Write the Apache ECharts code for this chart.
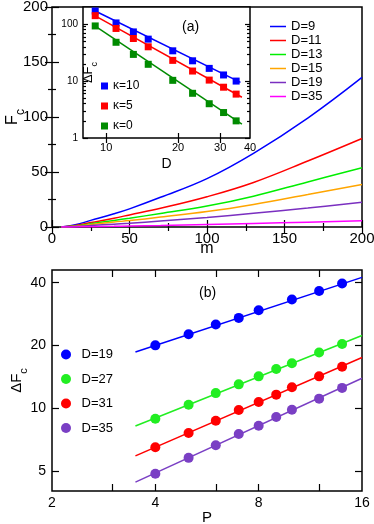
<!DOCTYPE html>
<html>
<head>
<meta charset="utf-8">
<script src="https://cdn.jsdelivr.net/npm/echarts@6/dist/echarts.min.js"></script>
<style>
  html, body { margin: 0; padding: 0; background: #fff; }
  #chart { width: 374px; height: 524px; }
</style>
</head>
<body>
<div id="chart"></div>
<script>
// panel (a), main plot: Fc against m
const mValues = [6, 15, 25, 40, 50, 70, 100, 130, 165, 200];
const fcD9  = [0, 2.0, 6.0, 12.0, 16.5, 27, 44, 67, 99, 136];
const fcD11 = [0, 1.3, 4.0, 8.0, 11.0, 17, 27.5, 40.5, 60, 80.5];
const fcD13 = [0, 0.9, 3.0, 6.0, 8.0, 12.3, 19, 28, 41, 53.8];
const fcD15 = [0, 0.7, 2.2, 4.5, 5.8, 9.0, 14, 20.5, 29.5, 38.7];
const fcD19 = [0, 0.4, 1.3, 2.6, 3.4, 5.4, 8.7, 12.5, 17.2, 22.6];
const fcD35 = [0, 0.1, 0.3, 0.6, 0.9, 1.4, 2.3, 3.2, 4.4, 5.7];
const mainNames = ['D=9', 'D=11', 'D=13', 'D=15', 'D=19', 'D=35'];
const mainColors = ['#0000ff', '#ff0000', '#00ee00', '#ffa500', '#7a2fc0', '#ff00ff'];

// panel (a), inset: delta Fc against D (log-log)
const insetD = [9, 11, 13, 15, 19, 23, 27, 31, 35];
const dfK10 = [170, 105, 73, 54.5, 34, 22.7, 16.7, 12.8, 10.0];
const dfK5  = [141, 84, 56, 40, 23.1, 15.0, 10.4, 7.8, 5.9];
const dfK0  = [93, 48, 29.4, 19.7, 10.3, 6.1, 4.0, 2.8, 2.0];
const fitK10 = [[9, 170], [36.5, 9.5]];
const fitK5  = [[9, 140], [37, 5.2]];
const fitK0  = [[9, 92], [37, 1.76]];
const insetNames = ['κ=10', 'κ=5', 'κ=0'];
const insetColors = ['#0000ff', '#ff0000', '#008b00'];

// panel (b): delta Fc against P (log-log)
const pD19 = [4, 5, 6, 7, 8, 10, 12, 14];
const pAll = [4, 5, 6, 7, 8, 9, 10, 12, 14];
const dfD19 = [20.0, 22.6, 25.2, 27.1, 29.5, 33.2, 36.5, 39.6];
const dfD27 = [8.89, 10.37, 11.8, 13.0, 14.2, 15.4, 16.4, 18.5, 20.3];
const dfD31 = [6.49, 7.6, 8.7, 9.8, 10.7, 11.6, 12.6, 14.2, 15.8];
const dfD35 = [4.84, 5.77, 6.63, 7.51, 8.23, 9.06, 9.82, 11.1, 12.5];
const fitD19 = [[3.5, 18.6], [16, 42.4]];
const fitD27 = [[3.5, 8.2], [16, 22.3]];
const fitD31 = [[3.5, 5.9], [16, 17.5]];
const fitD35 = [[3.5, 4.41], [16, 13.9]];
const bNames = ['D=19', 'D=27', 'D=31', 'D=35'];
const bColors = ['#0000ff', '#22ee22', '#ff0000', '#7a3fc4'];

// tick positions for the log axes
const insetXTicks = [10, 20, 30, 40];
const insetYMajor = [1, 10, 100];
const insetYMinor = [2, 3, 4, 5, 6, 7, 8, 9, 20, 30, 40, 50, 60, 70, 80, 90];
const bXLabels = [2, 4, 8, 16];
const bXTicks = [3, 4, 6, 8, 12];
const bYTicks = [5, 10, 20, 40];

const FONT = 'Liberation Sans';
const lg = v => Math.log10(v);
const pow10 = v => String(Math.round(Math.pow(10, v)));
const pts = (xs, ys) => xs.map((x, i) => [x, ys[i]]);
const logPts = list => list.map(p => [lg(p[0]), lg(p[1])]);
const tickStyle = { color: '#000', width: 1.2 };

function nameStyle(size) {
  return {
    color: '#000', fontSize: size, fontFamily: FONT,
    rich: {
      f: { fontSize: size, lineHeight: size + 1, verticalAlign: 'top', fontFamily: FONT },
      s: { fontSize: size - 4, lineHeight: size - 4, padding: [Math.round(size * 0.6), 0, 0, 0], verticalAlign: 'top', fontFamily: FONT }
    }
  };
}

function linAxis(grid, position, name, gap) {
  return {
    gridIndex: grid, type: 'value', position: position,
    min: 0, max: 200, interval: 50,
    name: name || '', nameLocation: 'middle', nameGap: gap || 0, nameMoveOverlap: false,
    nameTextStyle: nameStyle(16),
    axisLine: { show: false },
    axisTick: { inside: true, length: 7, lineStyle: tickStyle },
    minorTick: { show: true, splitNumber: 2, length: 4, lineStyle: tickStyle },
    axisLabel: { show: !!name, fontSize: 15, color: '#000', margin: 4, fontFamily: FONT },
    splitLine: { show: false }
  };
}

function logAxis(grid, position, min, max, ticks, labels, len, fontSize, margin) {
  return {
    gridIndex: grid, type: 'value', position: position,
    min: lg(min), max: lg(max),
    nameMoveOverlap: false,
    axisLine: { show: false },
    axisTick: { show: ticks.length > 0, inside: true, length: len, lineStyle: tickStyle,
                customValues: ticks.map(lg) },
    axisLabel: { show: !!labels, fontSize: fontSize || 12, color: '#000', margin: margin || 4,
                 fontFamily: FONT, formatter: pow10,
                 customValues: (labels || []).map(lg) },
    splitLine: { show: false }
  };
}

function withName(axis, name, gap, size) {
  axis.name = name;
  axis.nameLocation = 'middle';
  axis.nameGap = gap;
  axis.nameTextStyle = nameStyle(size);
  return axis;
}

const series = [];
[fcD9, fcD11, fcD13, fcD15, fcD19, fcD35].forEach((ys, i) => {
  series.push({
    name: mainNames[i], type: 'line', xAxisIndex: 0, yAxisIndex: 0,
    data: pts(mValues, ys), smooth: 0.4, symbol: 'none',
    lineStyle: { color: mainColors[i], width: 1.5 }, itemStyle: { color: mainColors[i] }, z: 3
  });
});
[[dfK10, fitK10], [dfK5, fitK5], [dfK0, fitK0]].forEach((d, i) => {
  series.push({
    name: 'fit ' + insetNames[i], type: 'line', xAxisIndex: 2, yAxisIndex: 2,
    data: logPts(d[1]), symbol: 'none',
    lineStyle: { color: insetColors[i], width: 1.5 }, z: 4
  });
  series.push({
    name: insetNames[i], type: 'scatter', xAxisIndex: 2, yAxisIndex: 2,
    data: logPts(pts(insetD, d[0])), symbol: 'rect', symbolSize: 7,
    itemStyle: { color: insetColors[i], opacity: 1 }, z: 5
  });
});
[[pD19, dfD19, fitD19], [pAll, dfD27, fitD27], [pAll, dfD31, fitD31], [pAll, dfD35, fitD35]].forEach((d, i) => {
  series.push({
    name: 'fit b ' + bNames[i], type: 'line', xAxisIndex: 4, yAxisIndex: 6,
    data: logPts(d[2]), symbol: 'none',
    lineStyle: { color: bColors[i], width: 1.5 }, z: 4
  });
  series.push({
    name: 'b ' + bNames[i], type: 'scatter', xAxisIndex: 4, yAxisIndex: 6,
    data: logPts(pts(d[0], d[1])), symbol: 'circle', symbolSize: 10,
    itemStyle: { color: bColors[i], opacity: 1 }, z: 5
  });
});

const gridBox = { show: true, borderColor: '#000', borderWidth: 1.5, backgroundColor: '#fff', outerBoundsMode: 'none' };

const option = {
  animation: false,
  backgroundColor: '#fff',
  textStyle: { fontFamily: FONT, color: '#000' },
  grid: [
    Object.assign({ left: 52, top: 7, width: 310, height: 220 }, gridBox),
    Object.assign({ left: 83, top: 7, width: 167, height: 131 }, gridBox),
    Object.assign({ left: 52, top: 270, width: 310, height: 221 }, gridBox)
  ],
  title: [
    { text: '(a)', left: 182, top: 20, padding: 0, textStyle: { fontSize: 14, fontWeight: 'normal', color: '#000', fontFamily: FONT } },
    { text: '(b)', left: 199, top: 286, padding: 0, textStyle: { fontSize: 14, fontWeight: 'normal', color: '#000', fontFamily: FONT } }
  ],
  legend: [
    { data: mainNames, orient: 'vertical', left: 270, top: 20, padding: 0,
      itemWidth: 16, itemHeight: 10, itemGap: 1, selectedMode: false,
      icon: 'path://M0,0H32V3H0Z',
      textStyle: { fontSize: 13, color: '#000', fontFamily: FONT } },
    { data: insetNames, orient: 'vertical', left: 101, top: 80, padding: 0,
      itemWidth: 7, itemHeight: 7, itemGap: 8, icon: 'rect', selectedMode: false,
      textStyle: { fontSize: 12, color: '#000', fontFamily: FONT } },
    { data: bNames.map(n => 'b ' + n), orient: 'vertical', left: 61, top: 348, padding: 0,
      itemWidth: 21, itemHeight: 10, itemGap: 11.5, icon: 'circle', selectedMode: false,
      formatter: n => n.slice(2),
      textStyle: { fontSize: 13, color: '#000', fontFamily: FONT } }
  ],
  xAxis: [
    linAxis(0, 'bottom', 'm', 14),
    linAxis(0, 'top'),
    withName(logAxis(1, 'bottom', 8, 40, [10, 20, 30], insetXTicks, 5, 11, 4), 'D', 19, 14),
    logAxis(1, 'top', 8, 40, [10, 20, 30], null, 5),
    withName(logAxis(2, 'bottom', 2, 16, bXTicks, bXLabels, 7, 14, 5), 'P', 19, 15),
    logAxis(2, 'top', 2, 16, bXTicks, null, 7)
  ],
  yAxis: [
    linAxis(0, 'left', '{f|F}{s|c}', 30),
    linAxis(0, 'right'),
    withName(logAxis(1, 'left', 1, 200, insetYMajor, insetYMajor, 5, 10, 5), '{f|ΔF}{s|c}', -13, 13),
    logAxis(1, 'left', 1, 200, insetYMinor, null, 3),
    logAxis(1, 'right', 1, 200, insetYMajor, null, 5),
    logAxis(1, 'right', 1, 200, insetYMinor, null, 3),
    withName(logAxis(2, 'left', 4, 46, bYTicks, bYTicks, 7, 14, 6), '{f|ΔF}{s|c}', 27, 15),
    logAxis(2, 'right', 4, 46, bYTicks, null, 7)
  ],
  series: series
};

const chart = echarts.init(document.getElementById('chart'), null, { renderer: 'canvas' });
chart.setOption(option);
window.addEventListener('resize', () => chart.resize());
</script>
</body>
</html>
